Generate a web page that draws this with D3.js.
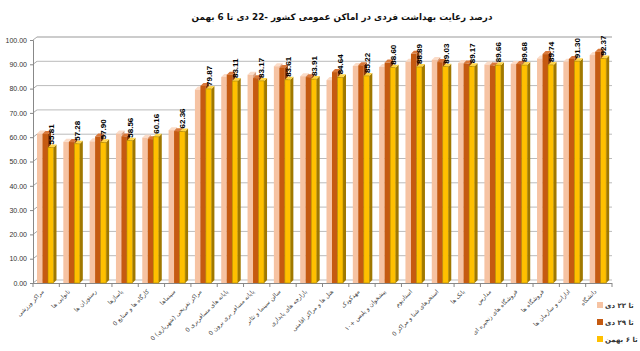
<!DOCTYPE html>
<html><head><meta charset="utf-8">
<script src="https://cdn.jsdelivr.net/npm/d3@7"></script>
<style>html,body{margin:0;padding:0;background:#fff;}svg{display:block;}</style>
</head><body>
<svg id="chart" width="640" height="351"></svg>
<script>
const categories = ["مراکز ورزشی","نانوایی ها","رستوران ها","پاساژها","کارگاه ها و صنایع 0","سینماها","مراکز تفریحی (شهربازی) 0","پایانه های مسافربری 0","پایانه مسافر بری برون 0","سالن سینما و تئاتر","بازارچه های پایداری","هتل ها و مراکز اقامتی","مهدکودک","پیشخوان و پلیس +۱۰","استادیوم","استخرهای شنا و مراکز 0","بانک ها","مدارس","فروشگاه های زنجیره ای","فروشگاه ها","ادارات و سازمان ها","دانشگاه"];
const seriesNames = ["تا ۲۲ دی","تا ۲۹ دی","تا ۶ بهمن"];
const dey22 = [61.5,58.1,58.3,61.5,59.8,62.9,79.6,84.8,85.7,89.2,85.1,83.5,89.3,88.9,91.0,91.8,90.5,89.9,90.1,92.4,91.1,93.8];
const dey29 = [61.3,58.0,60.3,60.3,59.2,62.5,81.1,85.7,84.3,88.5,84.7,86.8,89.6,90.7,94.3,90.9,90.3,89.5,90.1,94.2,92.2,95.2];
const bahman6 = [55.81,57.28,57.90,58.56,60.16,62.36,79.87,83.11,83.17,83.61,83.91,84.64,85.22,88.60,88.89,89.03,89.17,89.66,89.68,89.74,91.30,92.37];
const yTicks = [0,10,20,30,40,50,60,70,80,90,100];
const titleText = "درصد رعایت بهداشت فردی در اماکن عمومی کشور -22 دی تا 6 بهمن";

const colors = [
  {front:"#F6C3A3", side:"#D9A180", top:"#FBDCC8"},
  {front:"#C55A11", side:"#8E3E0A", top:"#D9783A"},
  {front:"#FFC000", side:"#A07800", top:"#FFD54A"}
];
const seriesData = [dey22, dey29, bahman6];

const svg = d3.select("#chart");
const plotLeft = 33, plotRight = 612, plotBottom = 283, plotTop = 40;
const depth = 3;

const x0 = d3.scaleBand().domain(categories).range([plotLeft, plotRight]);
const x1 = d3.scaleBand().domain(d3.range(3)).range([4, 20.5]);
const y = d3.scaleLinear().domain([0, 100]).range([plotBottom, plotTop]);

// title
svg.append("text").attr("x", 342).attr("y", 20).attr("text-anchor","middle")
  .attr("direction","rtl")
  .style("font-family","DejaVu Sans").style("font-size","8.8px").style("font-weight","bold")
  .attr("fill","#111").text(titleText);

// gridlines (back wall) with left wall diagonal
const grid = svg.append("g");
yTicks.forEach(t => {
  const yy = y(t);
  grid.append("line").attr("x1", plotLeft).attr("y1", yy).attr("x2", plotLeft+depth+1).attr("y2", yy-depth)
    .attr("stroke", "#aaa").attr("stroke-width", 1);
  grid.append("line").attr("x1", plotLeft+depth+1).attr("y1", yy-depth).attr("x2", plotRight).attr("y2", yy-depth)
    .attr("stroke", t===100 ? "#999" : "#bbb").attr("stroke-width", 1);
});

// y axis
const yAxis = d3.axisLeft(y).tickValues(yTicks).tickFormat(d3.format(".2f")).tickSize(3).tickPadding(3);
const gy = svg.append("g").attr("transform", `translate(${plotLeft},0)`).call(yAxis);
gy.select(".domain").attr("stroke","#888");
gy.selectAll(".tick line").attr("stroke","#888");
gy.selectAll("text").style("font-family","Liberation Sans").style("font-size","7px").attr("fill","#333");

// x axis baseline with ticks
const gx = svg.append("g");
gx.append("line").attr("x1", plotLeft).attr("x2", plotRight).attr("y1", plotBottom+0.5).attr("y2", plotBottom+0.5).attr("stroke","#888");
d3.range(categories.length+1).forEach(i => {
  const xx = plotLeft + i * x0.step();
  gx.append("line").attr("x1", xx).attr("x2", xx).attr("y1", plotBottom).attr("y2", plotBottom+4).attr("stroke","#888");
});

// bars
const bars = svg.append("g");
categories.forEach((c, i) => {
  for (let s = 0; s < 3; s++) {
    const v = seriesData[s][i];
    const bx = x0(c) + x1(s);
    const w = x1.bandwidth();
    const ty = y(v);
    const col = colors[s];
    bars.append("path")
      .attr("d", `M${bx+w},${ty} L${bx+w+depth},${ty-depth} L${bx+w+depth},${plotBottom-depth} L${bx+w},${plotBottom} Z`)
      .attr("fill", col.side);
    bars.append("path")
      .attr("d", `M${bx},${ty} L${bx+depth},${ty-depth} L${bx+w+depth},${ty-depth} L${bx+w},${ty} Z`)
      .attr("fill", col.top);
    bars.append("rect").attr("x", bx).attr("y", ty).attr("width", w).attr("height", plotBottom - ty)
      .attr("fill", col.front)
      .attr("stroke", s===2 ? "#B08A00" : "none").attr("stroke-width", s===2 ? 0.6 : 0);
  }
});

// data labels for last series
const labels = svg.append("g");
categories.forEach((c, i) => {
  const v = bahman6[i];
  const lx = x0(c) + x1(2) + x1.bandwidth()/2 + 3;
  const ly = y(v) - 3;
  labels.append("text").attr("transform", `translate(${lx},${ly}) rotate(-90)`)
    .attr("text-anchor","start")
    .style("font-family","Liberation Sans").style("font-size","8px").style("font-weight","bold")
    .attr("fill","#000").text(d3.format(".2f")(v));
});

// x labels
const xl = svg.append("g");
categories.forEach(c => {
  const cx = x0(c) + x0.bandwidth()/2 - 2;
  xl.append("text").attr("transform", `translate(${cx},${plotBottom+9}) rotate(-45)`)
    .attr("text-anchor","end")
    .style("font-family","DejaVu Sans").style("font-size","6px")
    .attr("fill","#444").text(c);
});

// legend
const lg = svg.append("g");
seriesNames.forEach((n, i) => {
  const ly = 306 + i * 17;
  lg.append("rect").attr("x", 597).attr("y", ly-4).attr("width", 6).attr("height", 6).attr("fill", colors[i].front);
  lg.append("text").attr("x", 605).attr("y", ly+2).attr("direction","rtl").attr("text-anchor","end")
    .style("font-family","DejaVu Sans").style("font-size","7px").style("font-weight","bold")
    .attr("fill","#333").text(n);
});
</script>
</body></html>
